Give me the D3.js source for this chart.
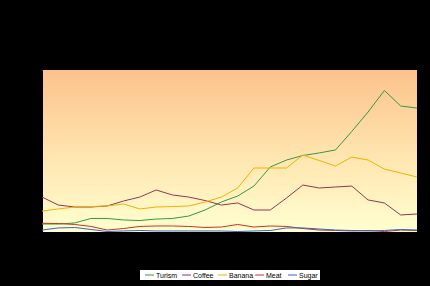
<!DOCTYPE html>
<html>
<head>
<meta charset="utf-8">
<script src="https://cdn.jsdelivr.net/npm/d3@7"></script>
<style>
  body { margin: 0; background: #000; }
  svg { display: block; font-family: Arial, "Liberation Sans", sans-serif; }
</style>
</head>
<body>
<div id="container"></div>
<script>
// values (millions of US$)
const years = d3.range(1985, 2009).map(String);
const tourism = [69, 69, 78, 117, 117, 104, 99, 112, 117, 138, 190, 259, 311, 397, 562, 622, 661, 683, 709, 869, 1037, 1223, 1089, 1071];
const coffee  = [302, 233, 216, 216, 225, 268, 302, 363, 320, 302, 272, 233, 251, 190, 190, 294, 406, 380, 389, 397, 277, 251, 147, 156];
const banana  = [181, 199, 216, 220, 225, 242, 199, 216, 220, 225, 259, 302, 380, 553, 553, 553, 665, 618, 570, 648, 622, 544, 510, 475];
const meat    = [75, 73, 65, 48, 17, 30, 48, 52, 52, 48, 39, 43, 65, 43, 52, 48, 30, 17, 13, 9, 13, 4, 17, 13];
const sugar   = [17, 35, 39, 22, 4, 9, 13, 9, 9, 9, 9, 9, 4, 9, 13, 35, 35, 26, 17, 13, 9, 13, 22, 17];
const yTicks  = [0, 200, 400, 600, 800, 1000, 1200, 1400];

const series = [
  { name: "Turism", values: tourism, color: "#339944" },
  { name: "Coffee", values: coffee,  color: "#993355" },
  { name: "Banana", values: banana,  color: "#eeb300" },
  { name: "Meat",   values: meat,    color: "#cc3322" },
  { name: "Sugar",  values: sugar,   color: "#3366cc" }
];

const W = 430, H = 286;
const m = { left: 42, right: 13, top: 70, bottom: 54 };

const svg = d3.select("#container").append("svg")
  .attr("width", W).attr("height", H);

svg.append("rect").attr("width", W).attr("height", H).attr("fill", "#000");

const x = d3.scalePoint().domain(years).range([m.left, W - m.right]);
const y = d3.scaleLinear().domain([0, 1400]).range([H - m.bottom, m.top]);

// plot background gradient
const grad = svg.append("defs").append("linearGradient")
  .attr("id", "bg").attr("x1", 0).attr("y1", 0).attr("x2", 0).attr("y2", 1);
grad.append("stop").attr("offset", "0%").attr("stop-color", "#fcc28c");
grad.append("stop").attr("offset", "55%").attr("stop-color", "#ffe6b0");
grad.append("stop").attr("offset", "100%").attr("stop-color", "#ffffd0");

svg.append("rect")
  .attr("x", m.left).attr("y", m.top)
  .attr("width", W - m.right - m.left).attr("height", H - m.bottom - m.top)
  .attr("fill", "url(#bg)");

// titles (black on black, as in the original)
const titles = [
  "Graph 1",
  "Costa Rica: income from tourism and the main agricultural export products,",
  "coffee, banana, meat and sugar",
  "Years 1985-2008"
];
svg.append("g").selectAll("text").data(titles).join("text")
  .attr("x", 215).attr("y", (d, i) => 17 + i * 11)
  .attr("text-anchor", "middle").attr("font-size", 9).attr("font-weight", "bold")
  .attr("fill", "#000").text(d => d);

// axes
const yAxis = svg.append("g").attr("transform", `translate(${m.left},0)`)
  .call(d3.axisLeft(y).tickValues(yTicks).tickFormat(d3.format(",.1f")).tickSize(3));
yAxis.selectAll("text").attr("font-size", 7).attr("fill", "#000");
yAxis.selectAll("line,path").attr("stroke", "#000");

const xAxis = svg.append("g").attr("transform", `translate(0,${H - m.bottom})`)
  .call(d3.axisBottom(x).tickSize(3));
xAxis.selectAll("text").attr("font-size", 7).attr("fill", "#000")
  .attr("transform", "rotate(-90)").attr("text-anchor", "end")
  .attr("dx", "-0.5em").attr("dy", "-0.4em");
xAxis.selectAll("line,path").attr("stroke", "#000");

svg.append("text").attr("x", 230).attr("y", 260).attr("text-anchor", "middle")
  .attr("font-size", 7).attr("fill", "#000").text("Years");
svg.append("text").attr("transform", "translate(14,152) rotate(-90)")
  .attr("text-anchor", "middle").attr("font-size", 7).attr("fill", "#000")
  .text("Millions of US dollars");

// lines
const line = d3.line().x((d, i) => x(years[i])).y(d => y(d));
svg.append("g").selectAll("path").data(series).join("path")
  .attr("d", d => line(d.values))
  .attr("fill", "none").attr("stroke", d => d.color).attr("stroke-width", 1);

// legend
const leg = svg.append("g").attr("transform", "translate(140,270)");
leg.append("rect").attr("width", 180).attr("height", 10).attr("fill", "#fff");
const legX = [5, 42, 78, 115, 148];
const items = leg.selectAll("g").data(series).join("g")
  .attr("transform", (d, i) => `translate(${legX[i]},5)`);
items.append("line").attr("x1", 0).attr("x2", 9)
  .attr("stroke", d => d.color).attr("stroke-width", 1);
items.append("text").attr("x", 11).attr("y", 2.5).attr("font-size", 7)
  .attr("fill", "#000").text(d => d.name);
</script>
</body>
</html>
